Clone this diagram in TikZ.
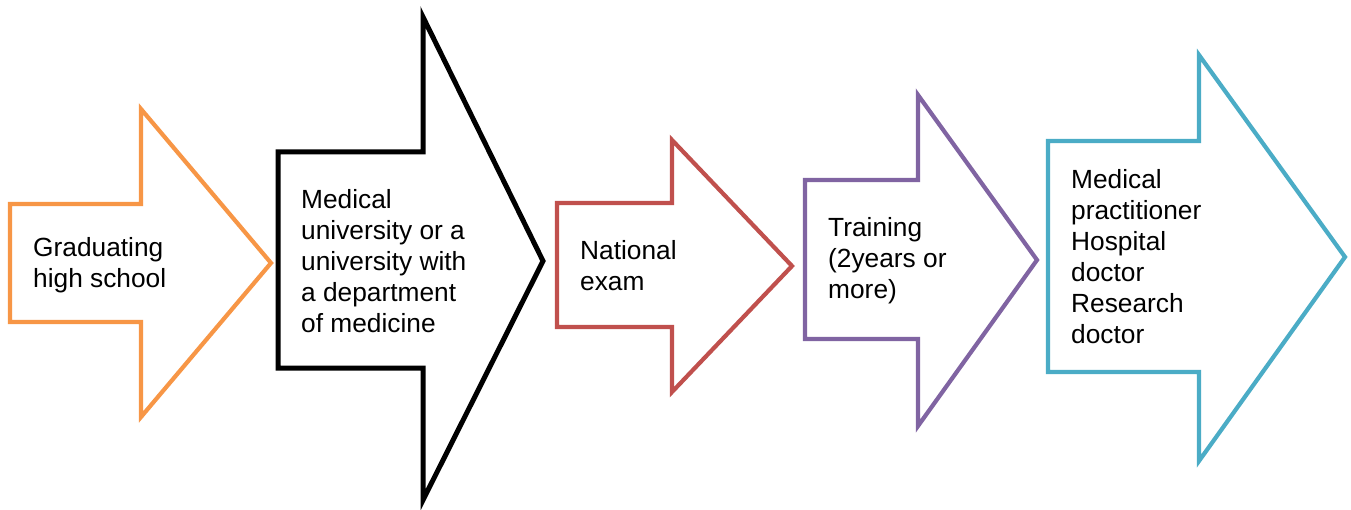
\documentclass[tikz,border=0pt]{standalone}
\usepackage{fontspec}
\setmainfont{Liberation Sans}
\definecolor{aorange}{HTML}{F79646}
\definecolor{ared}{HTML}{C0504D}
\definecolor{apurple}{HTML}{8064A2}
\definecolor{ateal}{HTML}{4BACC6}
\begin{document}
\begin{tikzpicture}[x=1pt,y=-1pt,
  arrowshape/.style={line width=4.2pt,line join=miter,fill=white},
  label/.style={anchor=west,align=left,inner sep=0pt,font=\fontsize{26.3}{31}\selectfont}]
\useasboundingbox (0,0) rectangle (1351,510);
% arrow 1
\draw[arrowshape,draw=aorange] (10,204) -- (141,204) -- (141,109) -- (271,263) -- (141,417) -- (141,322) -- (10,322) -- cycle;
\node[label] (t1) at (33,265) {Graduating\\high school};
% arrow 2
\draw[arrowshape,draw=black,line width=5pt] (278,152) -- (423,152) -- (423,17) -- (543,261) -- (423,500) -- (423,368) -- (278,368) -- cycle;
\node[label] (t2) at (301,261) {Medical\\university or a\\university with\\a department\\of medicine};
% arrow 3
\draw[arrowshape,draw=ared] (557,203) -- (672,203) -- (672,140) -- (792,266) -- (672,392) -- (672,327) -- (557,327) -- cycle;
\node[label] (t3) at (580,266) {National\\exam};
% arrow 4
\draw[arrowshape,draw=apurple] (805,180) -- (918,180) -- (918,95) -- (1037,260) -- (918,426) -- (918,339) -- (805,339) -- cycle;
\node[label] (t4) at (828,261) {Training\\(2years or\\more)};
% arrow 5
\draw[arrowshape,draw=ateal] (1048,141) -- (1199,141) -- (1199,55) -- (1345,257) -- (1199,461) -- (1199,372) -- (1048,372) -- cycle;
\node[label] (t5) at (1071,257) {Medical\\practitioner\\Hospital\\doctor\\Research\\doctor};
\end{tikzpicture}
\end{document}
